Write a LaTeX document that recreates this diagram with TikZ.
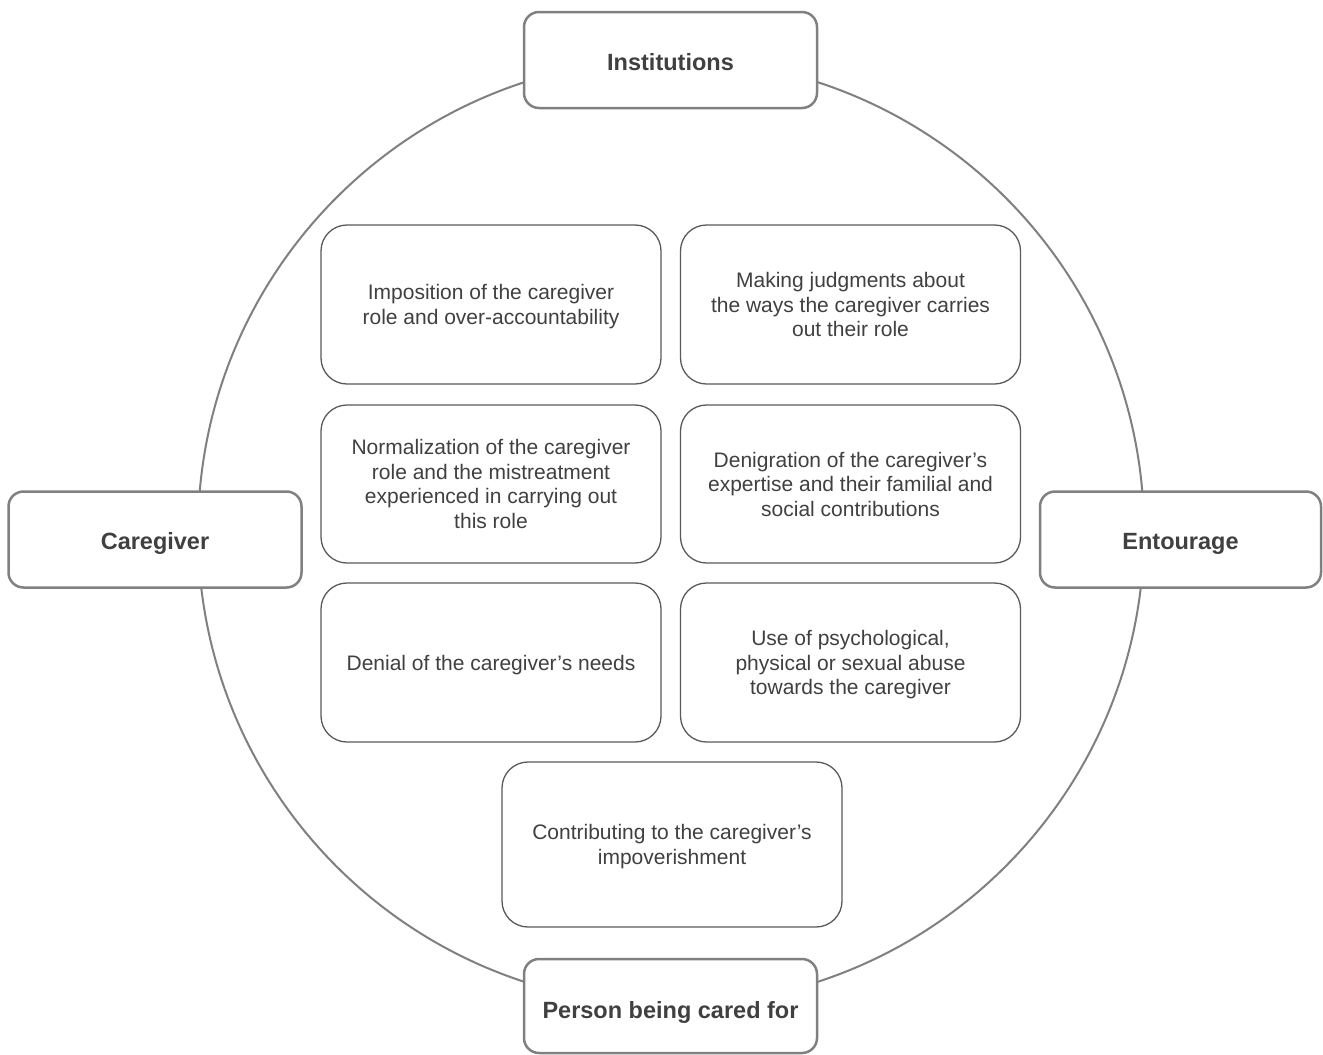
\documentclass[tikz,border=0pt]{standalone}
\usepackage{fontspec}
\setmainfont{Liberation Sans}
\definecolor{outerc}{HTML}{808080}
\definecolor{innerc}{HTML}{5A5A5A}
\definecolor{textc}{HTML}{404040}
\begin{document}
\begin{tikzpicture}[x=1pt,y=-1pt,
  outerbox/.style={draw=outerc, line width=2.5pt, rounded corners=15pt, fill=white,
    font=\fontsize{23.5}{28}\selectfont\bfseries, text=textc, align=center,
    text height=20pt, text depth=0pt,
    minimum width=293pt, minimum height=96pt, inner sep=0pt},
  innerbox/.style={draw=innerc, line width=1.3pt, rounded corners=26pt, fill=white,
    font=\fontsize{21}{24.5}\selectfont, text=textc, align=center, text depth=0pt,
    minimum width=340pt, minimum height=158pt, inner sep=0pt},
  ring/.style={draw=outerc, line width=2pt}]
\useasboundingbox (0,0) rectangle (1323,1055);
\fill[white] (0,0) rectangle (1323,1055);
\coordinate (c) at (671,532);
\draw[ring] (c) circle[radius=473pt];

\node[outerbox] (inst) at (670.5,60) {Institutions};
\node[outerbox] (care) at (155,539.5) {Caregiver};
\node[outerbox, minimum width=281pt] (ent) at (1180.5,539.5) {Entourage};
\node[outerbox, minimum height=94pt, text height=25pt] (pers) at (670.5,1006) {Person being cared for};

\node[innerbox, minimum height=159pt] (a1) at (491,304.5) {Imposition of the caregiver\\role and over-accountability};
\node[innerbox, minimum height=159pt] (b1) at (850.5,304.5) {Making judgments about\\the ways the caregiver carries\\out their role};
\node[innerbox] (a2) at (491,484) {Normalization of the caregiver\\role and the mistreatment\\experienced in carrying out\\this role};
\node[innerbox] (b2) at (850.5,484) {Denigration of the caregiver’s\\expertise and their familial and\\social contributions};
\node[innerbox, minimum height=159pt] (a3) at (491,662.5) {Denial of the caregiver’s needs};
\node[innerbox, minimum height=159pt] (b3) at (850.5,662.5) {Use of psychological,\\physical or sexual abuse\\towards the caregiver};
\node[innerbox, minimum height=165pt] (d) at (672,844.5) {Contributing to the caregiver’s\\impoverishment};
\end{tikzpicture}
\end{document}
